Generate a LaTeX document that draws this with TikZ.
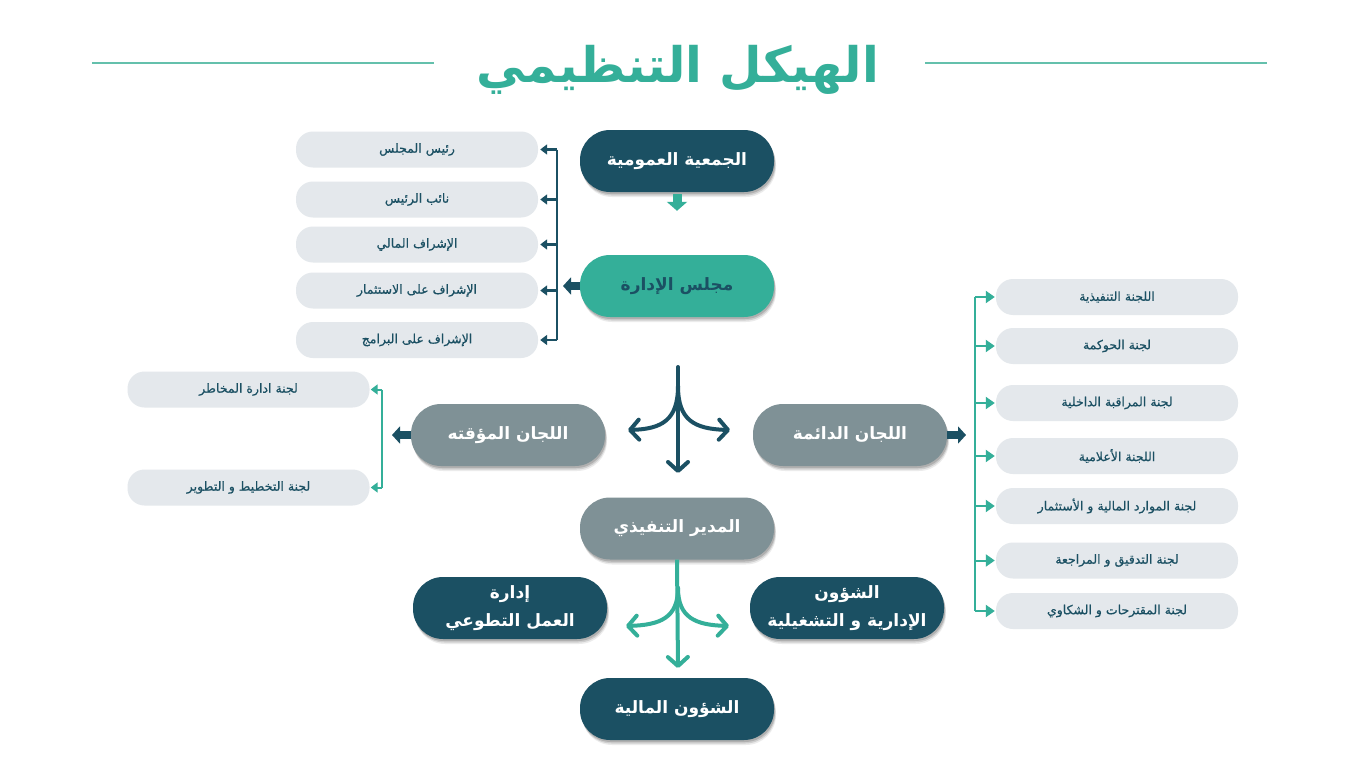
\documentclass[tikz,border=0pt]{standalone}
\usepackage{fontspec}
\newfontfamily\arabicfont[Script=Arabic]{DejaVu Sans}
\newfontfamily\arabicmed[Script=Arabic,FakeBold=0.6]{DejaVu Sans}
\TeXXeTstate=1
\usetikzlibrary{arrows.meta,shadows}
\definecolor{darkc}{RGB}{27,80,99}
\definecolor{tealc}{RGB}{52,175,153}
\definecolor{greyc}{RGB}{127,145,150}
\definecolor{pillc}{RGB}{228,232,236}
\definecolor{linec}{RGB}{100,192,172}
\newcommand\AR[1]{{\beginR #1\endR}}
\tikzset{
  mainbox/.style={rounded corners=30pt, minimum width=194pt, minimum height=62pt, inner sep=0pt,
    drop shadow={shadow xshift=2pt, shadow yshift=-5pt, opacity=.08, fill=black},
    drop shadow={shadow xshift=1.5pt, shadow yshift=-3.5pt, opacity=.12, fill=black},
    drop shadow={shadow xshift=1pt, shadow yshift=-2pt, opacity=.15, fill=black},
    font=\arabicfont\bfseries\fontsize{17}{28}\selectfont, text=white, align=center},
  darkbox/.style={mainbox, fill=darkc},
  greybox/.style={mainbox, fill=greyc},
  tealbox/.style={mainbox, fill=tealc, text=darkc},
  pill/.style={rounded corners=17pt, fill=pillc, minimum width=242pt, minimum height=36pt, inner sep=0pt,
    font=\arabicmed\fontsize{12.5}{14}\selectfont, text=darkc},
  blockarrow/.style={line width=8pt, -{Triangle[length=8pt,width=17pt]}},
  brk/.style={line width=2.4pt},
  brktip/.style={brk, -{Triangle[length=7pt,width=10pt]}},
  splitline/.style={line width=4pt, line cap=round},
  splittip/.style={splitline, -{Straight Barb[length=9pt,width=20pt,round]}},
}
\begin{document}
\begin{tikzpicture}[x=1pt,y=-1pt]
\useasboundingbox[fill=white] (0,0) rectangle (1366,768);

% title
\node[anchor=base, text=tealc, font=\arabicfont\bfseries\fontsize{49}{52}\selectfont] (title) at (678,82) {\AR{الهيكل التنظيمي}};
\coordinate (tl1) at (92,63); \coordinate (tl2) at (434,63);
\coordinate (tr1) at (925,63); \coordinate (tr2) at (1267,63);
\draw[linec, line width=1.2pt] (tl1) -- (tl2);
\draw[linec, line width=1.2pt] (tr1) -- (tr2);

% main nodes
\node[darkbox] (ga) at (677,161) {\AR{الجمعية العمومية}};
\node[tealbox] (board) at (677,286) {\AR{مجلس الإدارة}};
\node[greybox] (temp) at (508,435) {\AR{اللجان المؤقته}};
\node[greybox] (perm) at (850,435) {\AR{اللجان الدائمة}};
\node[greybox] (exec) at (677,528.5) {\AR{المدير التنفيذي}};
\node[darkbox] (vol) at (510,608) {\AR{إدارة}\\\AR{العمل التطوعي}};
\node[darkbox] (admin) at (847,608) {\AR{الشؤون}\\\AR{الإدارية و التشغيلية}};
\node[darkbox] (fin) at (677,709) {\AR{الشؤون المالية}};

% board pills
\node[pill] (b1) at (417,149.5) {\AR{رئيس المجلس}};
\node[pill] (b2) at (417,199.5) {\AR{نائب الرئيس}};
\node[pill] (b3) at (417,244.5) {\AR{الإشراف المالي}};
\node[pill] (b4) at (417,290.5) {\AR{الإشراف على  الاستثمار}};
\node[pill] (b5) at (417,340) {\AR{الإشراف على البرامج}};

% temporary committee pills
\node[pill] (t1) at (248.5,389.5) {\AR{لجنة ادارة المخاطر}};
\node[pill] (t2) at (248.5,487.5) {\AR{لجنة التخطيط و التطوير}};

% permanent committee pills
\node[pill] (p1) at (1117,297) {\AR{اللجنة التنفيذية}};
\node[pill] (p2) at (1117,346) {\AR{لجنة الحوكمة}};
\node[pill] (p3) at (1117,403) {\AR{لجنة المراقبة الداخلية}};
\node[pill] (p4) at (1117,456) {\AR{اللجنة الأعلامية}};
\node[pill] (p5) at (1117,506) {\AR{لجنة الموارد المالية و الأستثمار}};
\node[pill] (p6) at (1117,560.5) {\AR{لجنة التدقيق و المراجعة}};
\node[pill] (p7) at (1117,611) {\AR{لجنة المقترحات و الشكاوي}};

% GA -> board
\draw[tealc, line width=9pt, -{Triangle[length=9pt,width=20pt]}, shorten <=2pt, shorten >=44pt] (ga.south) -- (board.north);

% board -> bracket
\coordinate (bA) at (563,286);
\draw[darkc, blockarrow] (board.west) -- (bA);
\coordinate (bx) at (557,0);
\draw[darkc, brk] (bx |- b1.east) -- (bx |- b5.east);
\foreach \p in {b1,b2,b3,b4,b5}
  \draw[darkc, brktip, shorten >=2pt] (bx |- \p.east) -- (\p.east);

% central dark split
\coordinate (s1top) at (678,367);
\coordinate (s1mid) at (678,386);
\coordinate (s1bot) at (678,473);
\coordinate (s1L) at (628,430);
\coordinate (s1R) at (730,430);
\draw[darkc, splittip] (s1top) -- (s1bot);
\draw[darkc, splittip] (s1mid) .. controls (678,420) and (662,429) .. (s1L);
\draw[darkc, splittip] (s1mid) .. controls (678,420) and (694,429) .. (s1R);

% temp -> bracket
\coordinate (tA) at (392,435);
\draw[darkc, blockarrow] (temp.west) -- (tA);
\coordinate (tx) at (382,0);
\draw[tealc, brk, line width=2pt] (tx |- t1.east) -- (tx |- t2.east);
\foreach \p in {t1,t2}
  \draw[tealc, brktip, line width=2pt, shorten >=1pt] (tx |- \p.east) -- (\p.east);

% perm -> bracket
\coordinate (pA) at (966,435);
\draw[darkc, blockarrow] (perm.east) -- (pA);
\coordinate (px) at (975,0);
\draw[tealc, brk, line width=2pt] (px |- p1.west) -- (px |- p7.west);
\foreach \p in {p1,p2,p3,p4,p5,p6,p7}
  \draw[tealc, brk, line width=2pt, -{Triangle[length=9pt,width=12pt]}, shorten >=1pt] (px |- \p.west) -- (\p.west);

% executive teal split
\coordinate (s2mid) at (678,588);
\coordinate (s2bot) at (678,668);
\coordinate (s2L) at (626,626);
\coordinate (s2R) at (729,626);
\draw[tealc, splittip, line cap=butt] (exec.south) -- (s2bot);
\draw[tealc, splittip] (s2mid) .. controls (678,618) and (660,625) .. (s2L);
\draw[tealc, splittip] (s2mid) .. controls (678,618) and (696,625) .. (s2R);
\end{tikzpicture}
\end{document}
